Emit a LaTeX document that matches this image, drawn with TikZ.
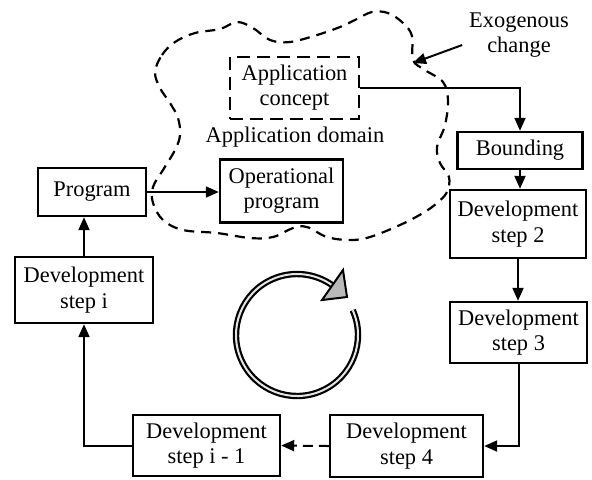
\documentclass[tikz,border=0pt]{standalone}
\usepackage{fontspec}
\setmainfont{Liberation Serif}
\usetikzlibrary{arrows.meta}
\begin{document}
\begin{tikzpicture}[x=0.5pt,y=-0.5pt,
  every node/.style={font=\fontsize{11.2}{12.6}\selectfont, align=center},
  box/.style={draw, line width=1.2pt, inner sep=0pt},
  sz/.style 2 args={minimum width=#1*0.5pt, minimum height=#2*0.5pt},
  arr/.style={line width=1pt, -{Triangle[length=6.5pt,width=5.5pt]}},
  cloudline/.style={line width=1.1pt, dash pattern=on 5pt off 3.5pt},
  cycleline/.style={line width=1.1pt, double=gray!20, double distance=1pt}]
\useasboundingbox (0,0) rectangle (592,479);

% application domain cloud
\draw[cloudline] plot[smooth cycle, tension=0.6] coordinates {
  (155,72) (162,55) (175,42) (195,33) (220,29) (237,22) (253,28) (270,40)
  (290,42) (317,35) (340,27) (357,19) (372,12) (388,13) (403,23) (412,36)
  (413,60) (425,70) (443,82) (448,100) (445,125) (437,147) (440,163)
  (449,177) (447,192) (437,203) (423,213) (400,225) (370,237) (350,240)
  (327,237) (307,227) (293,228) (273,237) (250,238) (217,233) (183,230)
  (163,220) (153,203) (153,187) (163,170) (175,150) (180,135) (178,118)
  (170,103) (160,88)};

% boxes
\node[box, line width=1.3pt, dash pattern=on 6.5pt off 3.5pt, sz={129}{62}] (appc) at (294.5,88) {Application\\concept};
\node (dom) at (295,137) {Application domain};
\node[box, sz={123}{63}] (opp) at (281.5,191) {Operational\\program};
\node[box, sz={108}{48}] (prog) at (92,192) {Program};
\node[box, sz={125}{37}] (bound) at (520,150.5) {Bounding};
\node[box, sz={136}{68}] (dev2) at (518,224) {Development\\step 2};
\node[box, sz={137}{61}] (dev3) at (518.5,332.5) {Development\\step 3};
\node[box, sz={153}{62}] (dev4) at (406.5,446) {Development\\step 4};
\node[box, sz={147}{61}] (devi1) at (206.5,445.5) {Development\\step i - 1};
\node[box, sz={138}{66}] (devi) at (84,290) {Development\\step i};
\node (exo) at (519,35) {Exogenous\\change};
\coordinate (hit) at (413,63);

% development chain
\draw[arr] (appc.east) -| (bound.north);
\draw[arr] (bound.south) -- (bound.south |- dev2.north);
\draw[arr] (dev2.south) -- (dev2.south |- dev3.north);
\draw[arr] (dev3.south) |- (dev4.east);
\draw[arr, dash pattern=on 5pt off 3pt] (dev4.west) -- (devi1.east);
\draw[arr] (devi1.west) -| (devi.south);
\draw[arr] (devi.north) -- (devi.north |- prog.south);
\draw[arr] (prog.east) -- (prog.east -| opp.west);
\draw[arr] (exo.190) -- (hit);

% cycle symbol
\draw[cycleline] (297,335) ++(-24:61) arc[start angle=-24, end angle=306, radius=61];
\draw[fill=gray!55, line width=1pt, line join=miter] (322,300) -- (343,270) -- (347,297) -- cycle;
\end{tikzpicture}
\end{document}
